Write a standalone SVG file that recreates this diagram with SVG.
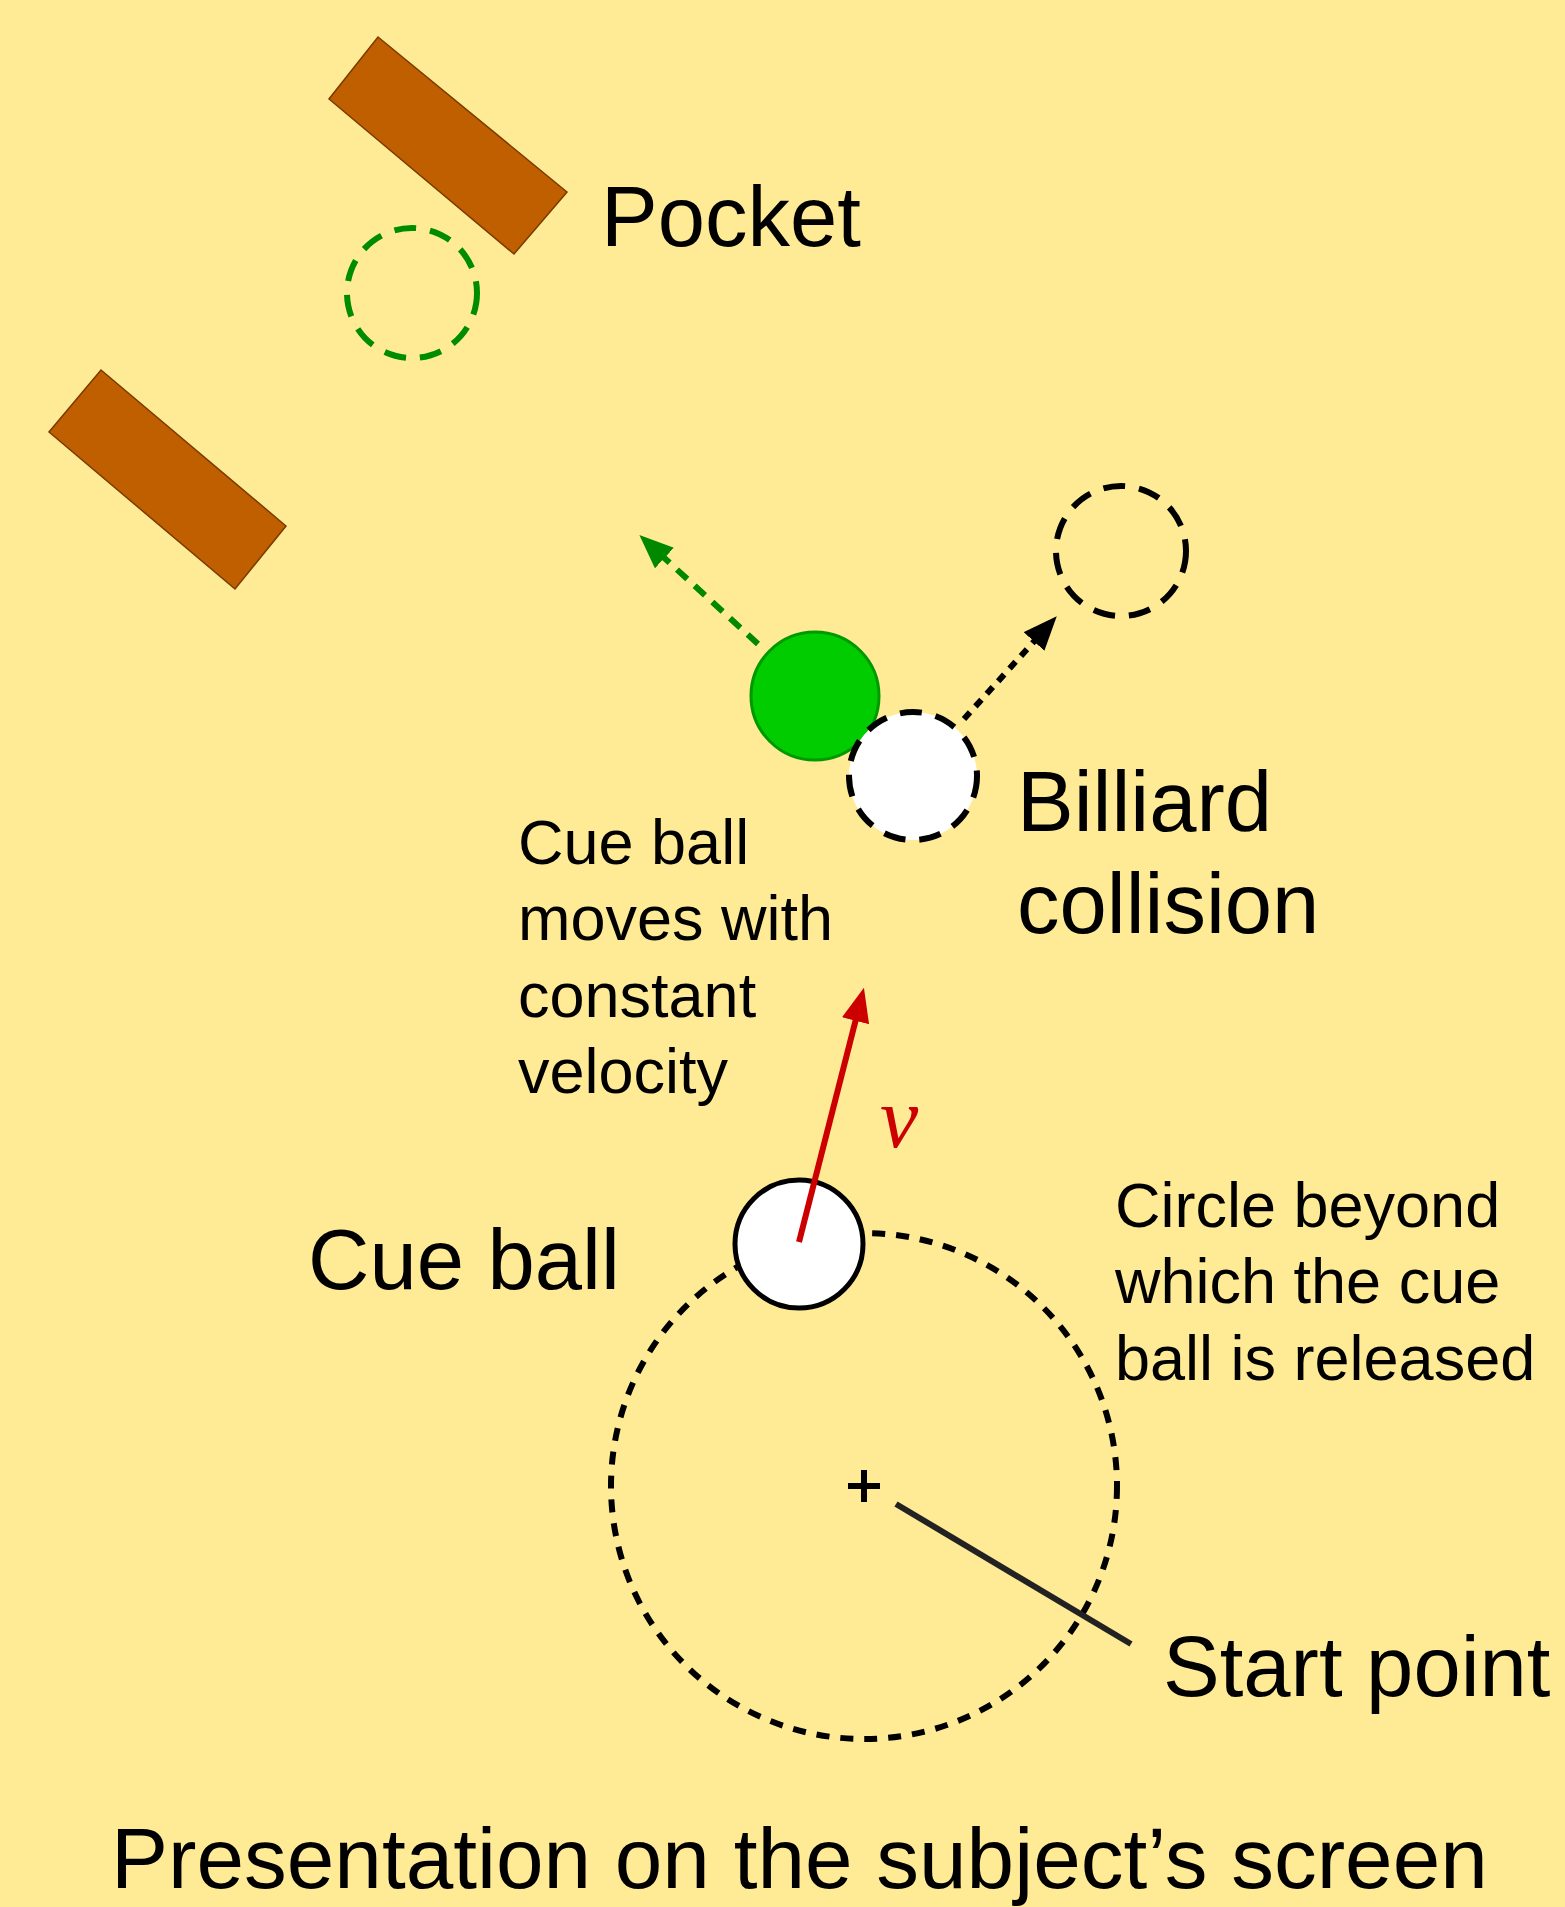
<svg xmlns="http://www.w3.org/2000/svg" width="1565" height="1907" viewBox="0 0 1565 1907">
<style>
text{font-family:"Liberation Sans",Arial,sans-serif;fill:#000}
.big{font-size:85px}
.small{font-size:63px}
.cushion{fill:#BF5F00;stroke:#7A3A00;stroke-width:1.5}
.dash{fill:none;stroke:#000;stroke-width:6;stroke-dasharray:22 14}
</style>
<defs>
<marker id="ahRed" markerUnits="userSpaceOnUse" markerWidth="40" markerHeight="30" refX="6" refY="14" orient="auto"><path d="M0,0 L34,14 L0,28 z" fill="#CC0000"/></marker>
<marker id="ahGreen" markerUnits="userSpaceOnUse" markerWidth="40" markerHeight="30" refX="6" refY="14" orient="auto"><path d="M0,0 L34,14 L0,28 z" fill="#008800"/></marker>
<marker id="ahBlack" markerUnits="userSpaceOnUse" markerWidth="40" markerHeight="30" refX="6" refY="14" orient="auto"><path d="M0,0 L34,14 L0,28 z" fill="#000"/></marker>
</defs>
<rect width="1565" height="1907" fill="#FFEB96"/>

<g id="cushion-top"><polygon class="cushion" points="378,37 567,192 514,254 329,99"/></g>
<g id="cushion-bottom"><polygon class="cushion" points="101,370 286,526 235,589 49,432"/></g>
<g id="pocket-target"><circle cx="412" cy="293" r="65" fill="none" stroke="#008C00" stroke-width="6" stroke-dasharray="22 14"/></g>
<g id="pocket-label"><text class="big" x="601" y="246">Pocket</text></g>

<g id="release-circle"><circle cx="864" cy="1486" r="253" fill="none" stroke="#000" stroke-width="6" stroke-dasharray="13 11"/></g>
<g id="start-marker"><path d="M848,1486 H880 M864,1470 V1502" stroke="#000" stroke-width="6" fill="none"/></g>

<g id="connectors">
<line x1="758" y1="644" x2="660" y2="554" stroke="#008800" stroke-width="6" stroke-dasharray="14 10" marker-end="url(#ahGreen)"/>
<line x1="964" y1="719" x2="1038" y2="637" stroke="#000" stroke-width="6" stroke-dasharray="9 8" marker-end="url(#ahBlack)"/>
<line x1="896" y1="1504" x2="1131" y2="1644" stroke="#222" stroke-width="6"/>
</g>

<g id="object-ball"><circle cx="815" cy="696" r="64" fill="#00CC00" stroke="#009900" stroke-width="3"/></g>
<g id="cue-ball-collision"><circle cx="913" cy="776" r="64" class="dash" style="fill:#fff"/></g>
<g id="cue-ball-deflected"><circle cx="1121" cy="551" r="65" class="dash"/></g>
<g id="collision-label"><text class="big" x="1017" y="831">Billiard</text><text class="big" x="1017" y="933">collision</text></g>

<g id="motion-label"><text class="small" x="518" y="864">Cue ball</text><text class="small" x="518" y="940">moves with</text><text class="small" x="518" y="1017">constant</text><text class="small" x="518" y="1093">velocity</text></g>

<g id="cue-ball"><circle cx="799" cy="1244" r="64" fill="#fff" stroke="#000" stroke-width="5"/></g>
<g id="velocity">
<line x1="799" y1="1242" x2="857" y2="1015" stroke="#CC0000" stroke-width="6" marker-end="url(#ahRed)"/>
<text x="880" y="1147" style="font-family:'Liberation Serif','Times New Roman',serif;font-style:italic;font-size:86px;fill:#CC0000">v</text>
</g>
<g id="cue-ball-label"><text class="big" x="308" y="1289">Cue ball</text></g>
<g id="circle-label"><text class="small" x="1115" y="1227">Circle beyond</text><text class="small" x="1115" y="1303">which the cue</text><text class="small" x="1115" y="1380">ball is released</text></g>
<g id="start-label"><text class="big" x="1163" y="1696">Start point</text></g>
<g id="title"><text x="111" y="1888" style="font-size:85.5px">Presentation on the subject’s screen</text></g>
</svg>
